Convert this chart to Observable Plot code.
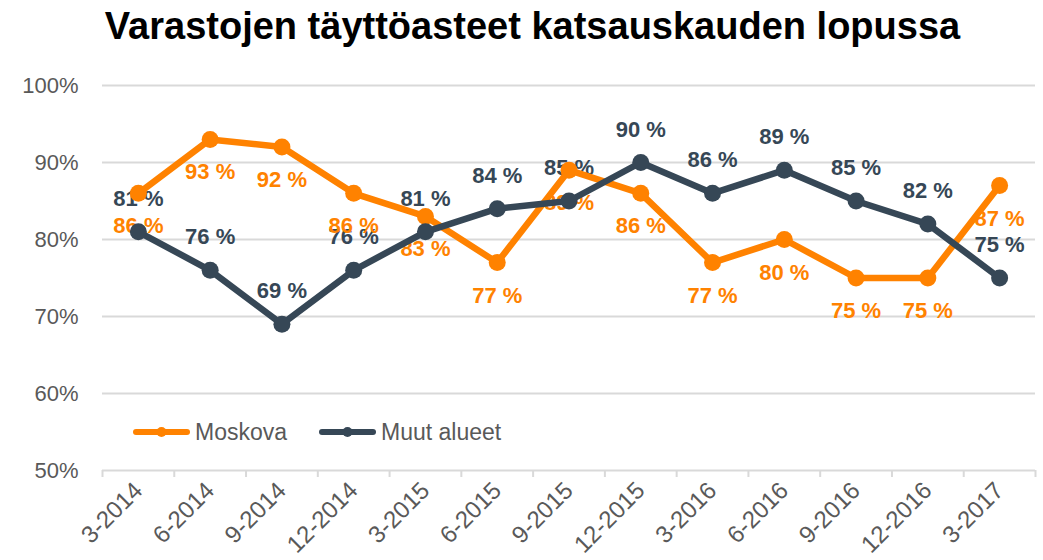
<!DOCTYPE html>
<html>
<head>
<meta charset="utf-8">
<script src="https://cdn.jsdelivr.net/npm/d3@7"></script>
<script src="https://cdn.jsdelivr.net/npm/@observablehq/plot@0.6"></script>
<style>
  html, body { margin: 0; padding: 0; background: #fff; }
  body { width: 1043px; height: 560px; position: relative; overflow: hidden; font-family: "Liberation Sans", Arial, sans-serif; }
  #title { position: absolute; left: 0; top: 0; width: 1043px; height: 55px; box-sizing: border-box; padding-left: 22px; text-align: center; font-weight: bold; font-size: 38px; line-height: 52px; color: #000; }
  #chart { position: absolute; left: 0; top: 55px; }
  #legend { position: absolute; left: 133px; top: 417px; display: flex; align-items: center; font-size: 23px; color: #595959; }
  .item { display: flex; align-items: center; margin-right: 32px; }
  .item svg { margin-right: 5px; }
</style>
</head>
<body>
<div id="title">Varastojen täyttöasteet katsauskauden lopussa</div>
<div id="chart"></div>
<div id="legend"></div>
<script>
const periods = ["3-2014","6-2014","9-2014","12-2014","3-2015","6-2015","9-2015","12-2015","3-2016","6-2016","9-2016","12-2016","3-2017"];
const moskova = [86, 93, 92, 86, 83, 77, 89, 86, 77, 80, 75, 75, 87];
const muut = [81, 76, 69, 76, 81, 84, 85, 90, 86, 89, 85, 82, 75];
const seriesNames = ["Moskova", "Muut alueet"];
const seriesColors = ["#FF8200", "#364756"];
const yTicks = [50, 60, 70, 80, 90, 100];

const mosData = periods.map((p, i) => ({i, p, v: moskova[i]}));
const muuData = periods.map((p, i) => ({i, p, v: muut[i]}));
const boundaries = periods.map((_, i) => i - 0.5).concat([periods.length - 0.5]);
const centers = periods.map((_, i) => i);

const font = "'Liberation Sans', Arial, sans-serif";

const chart = Plot.plot({
  width: 1043,
  height: 505,
  marginLeft: 102,
  marginRight: 8,
  marginTop: 30,
  marginBottom: 90,
  style: {fontFamily: font, background: "#fff"},
  x: {domain: [-0.5, periods.length - 0.5]},
  y: {domain: [50, 100]},
  marks: [
    Plot.gridY(yTicks, {stroke: "#d9d9d9", strokeOpacity: 1, strokeWidth: 2}),
    Plot.axisY({ticks: yTicks, tickFormat: d => d + "%", tickSize: 0, tickPadding: 24, fontSize: 22, fill: "#595959", label: null}),
    Plot.axisX({ticks: boundaries, tickFormat: () => "", tickSize: 7, stroke: "#d9d9d9", strokeWidth: 2, label: null}),
    Plot.axisX({ticks: centers, tickFormat: i => periods[i], tickSize: 0, tickRotate: -45, tickPadding: 16, fontSize: 24, fill: "#595959", label: null}),
    Plot.text(muuData, {x: "i", y: "v", text: d => d.v + " %", dy: -33, fill: seriesColors[1], fontWeight: "bold", fontSize: 22}),
    Plot.line(mosData, {x: "i", y: "v", stroke: seriesColors[0], strokeWidth: 6.5}),
    Plot.dot(mosData, {x: "i", y: "v", r: 8.5, fill: seriesColors[0]}),
    Plot.text(mosData, {x: "i", y: "v", text: d => d.v + " %", dy: 33, fill: seriesColors[0], fontWeight: "bold", fontSize: 22}),
    Plot.line(muuData, {x: "i", y: "v", stroke: seriesColors[1], strokeWidth: 6.5}),
    Plot.dot(muuData, {x: "i", y: "v", r: 8.5, fill: seriesColors[1]})
  ]
});
document.getElementById("chart").appendChild(chart);

const legend = document.getElementById("legend");
seriesNames.forEach((name, k) => {
  const item = document.createElement("div");
  item.className = "item";
  item.innerHTML = `<svg width="57" height="30"><line x1="3" x2="54" y1="15" y2="15" stroke="${seriesColors[k]}" stroke-width="6" stroke-linecap="round"/><circle cx="28.5" cy="15" r="5" fill="${seriesColors[k]}"/></svg><span>${name}</span>`;
  legend.appendChild(item);
});
</script>
</body>
</html>
